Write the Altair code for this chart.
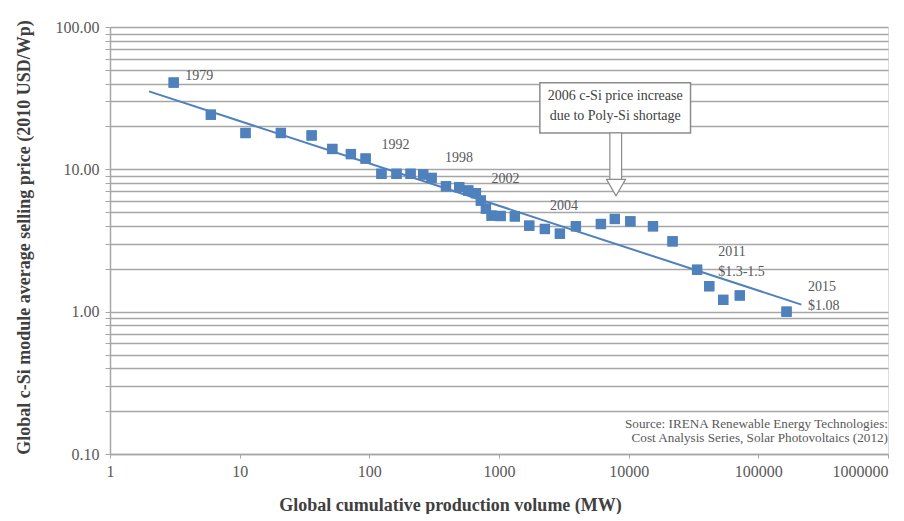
import altair as alt
import pandas as pd

# ---- data ----
volume_mw = [3.1, 6.0, 11.1, 20.8, 35.9, 51.8, 72.1, 93.6, 124, 162, 208, 260, 302,
             390, 493, 579, 664, 725, 793, 877, 1029, 1326, 1710, 2260, 2950, 3920,
             6110, 7830, 10300, 15400, 21800, 33700, 41800, 53600, 72000, 165000]
price_usd = [40.7, 24.2, 18.0, 18.0, 17.3, 13.9, 12.8, 11.9, 9.3, 9.3, 9.3, 9.2, 8.7,
             7.6, 7.5, 7.1, 6.8, 6.03, 5.3, 4.73, 4.7, 4.67, 4.02, 3.81, 3.53, 3.98,
             4.13, 4.48, 4.31, 3.98, 3.12, 1.97, 1.51, 1.21, 1.30, 1.0]

trend_x = [2.0, 215000]
trend_y = [35.3, 1.12]

label_text = ["1979", "1992", "1998", "2002", "2004", "2011", "$1.3-1.5", "2015", "$1.08"]
label_x = [3.8, 124, 383, 877, 2470, 49000, 49000, 242000, 242000]
label_y = [45.5, 14.9, 12.0, 8.56, 5.5, 2.61, 1.89, 1.49, 1.10]

box_lines = ["2006 c-Si price increase", "due to Poly-Si shortage"]
box_text_x = [7870, 7870]
box_text_y = [32.6, 23.8]
box_x = [2066]; box_x2 = [30000]; box_y = [40.5]; box_y2 = [18.0]
shaft_x = [7160]; shaft_x2 = [8820]; shaft_y = [18.0]; shaft_y2 = [8.0]
head_x = [7990]; head_y = [7.44]

source_lines = ["Source: IRENA Renewable Energy Technologies:",
                "Cost Analysis Series, Solar Photovoltaics (2012)"]
source_x = [1000000, 1000000]
source_y = [0.163, 0.130]

x_ticks = [1, 10, 100, 1000, 10000, 100000, 1000000]
y_ticks = [m * 10.0 ** e for e in (-1, 0, 1) for m in range(1, 10)] + [100.0]

FONT = "Liberation Serif"
GRID = "#a6a6a6"
TXT = "#595959"
BLUE = "#4f81bd"

xscale = alt.Scale(type="log", domain=[1, 1000000], nice=False)
yscale = alt.Scale(type="log", domain=[0.1, 100], nice=False)

xaxis = alt.Axis(values=x_ticks, grid=False, title="Global cumulative production volume (MW)",
                 labelExpr="format(datum.value, 'd')",
                 labelAlign={"expr": "datum.value >= 1000000 ? 'right' : 'center'"},
                 labelFont=FONT, labelFontSize=16, labelColor=TXT, labelPadding=5,
                 tickSize=4, tickColor=GRID, domainColor=GRID, domainWidth=1.5,
                 titleFont=FONT, titleFontSize=18, titleFontWeight="bold", titleColor="#404040",
                 titleX=340, titleAlign="center", titleY=51, titleBaseline="middle")
yaxis = alt.Axis(values=y_ticks, grid=True, gridColor=GRID, gridWidth=1.6,
                 title="Global c-Si module average selling price (2010 USD/Wp)",
                 labelExpr="abs(log(datum.value)/log(10) - round(log(datum.value)/log(10))) < 1e-6 ? format(datum.value, '.2f') : ''",
                 labelFont=FONT, labelFontSize=16, labelColor=TXT, labelPadding=6,
                 tickSize=5, tickColor=GRID, domainColor=GRID, domainWidth=1.5,
                 titleFont=FONT, titleFontSize=18, titleFontWeight="bold", titleColor="#404040",
                 titleX=-86, titleY=210, titleAngle=270, titleAlign="center", titleBaseline="middle")

pts = pd.DataFrame({"x": volume_mw, "y": price_usd})
trend = pd.DataFrame({"x": trend_x, "y": trend_y})
labels = pd.DataFrame({"x": label_x, "y": label_y, "t": label_text})
boxtxt = pd.DataFrame({"x": box_text_x, "y": box_text_y, "t": box_lines})
box = pd.DataFrame({"x": box_x, "x2": box_x2, "y": box_y, "y2": box_y2})
shaft = pd.DataFrame({"x": shaft_x, "x2": shaft_x2, "y": shaft_y, "y2": shaft_y2})
head = pd.DataFrame({"x": head_x, "y": head_y})
src = pd.DataFrame({"x": source_x, "y": source_y, "t": source_lines})

base_points = alt.Chart(pts).mark_square(size=105, color=BLUE, opacity=1).encode(
    x=alt.X("x:Q", scale=xscale, axis=xaxis),
    y=alt.Y("y:Q", scale=yscale, axis=yaxis),
)

line = alt.Chart(trend).mark_line(color=BLUE, strokeWidth=2).encode(
    x=alt.X("x:Q", scale=xscale), y=alt.Y("y:Q", scale=yscale))

lab = alt.Chart(labels).mark_text(font=FONT, fontSize=14, color=TXT, align="left", baseline="middle").encode(
    x=alt.X("x:Q", scale=xscale), y=alt.Y("y:Q", scale=yscale), text="t:N")

boxm = alt.Chart(box).mark_rect(fill="white", stroke="#8c8c8c", strokeWidth=1.5).encode(
    x=alt.X("x:Q", scale=xscale), x2="x2:Q", y=alt.Y("y:Q", scale=yscale), y2="y2:Q")

boxt = alt.Chart(boxtxt).mark_text(font=FONT, fontSize=14, color="#404040", align="center", baseline="middle").encode(
    x=alt.X("x:Q", scale=xscale), y=alt.Y("y:Q", scale=yscale), text="t:N")

shaftm = alt.Chart(shaft).mark_rect(fill="white", stroke="#8c8c8c", strokeWidth=1.2).encode(
    x=alt.X("x:Q", scale=xscale), x2="x2:Q", y=alt.Y("y:Q", scale=yscale), y2="y2:Q")

headm = alt.Chart(head).mark_point(shape="triangle-down", size=361, filled=True, fill="white",
                                   stroke="#8c8c8c", strokeWidth=1.2, opacity=1).encode(
    x=alt.X("x:Q", scale=xscale), y=alt.Y("y:Q", scale=yscale))

srcm = alt.Chart(src).mark_text(font=FONT, fontSize=13.2, color=TXT, align="right", baseline="middle").encode(
    x=alt.X("x:Q", scale=xscale), y=alt.Y("y:Q", scale=yscale), text="t:N")

chart = alt.layer(base_points, line, base_points, lab, boxm, boxt, shaftm, headm, srcm).properties(
    width=778, height=427,
    autosize=alt.AutoSizeParams(type="none"),
    padding={"left": 102, "top": 19, "right": 8, "bottom": 60},
).configure_view(stroke=None).configure_axis(labelFont=FONT, titleFont=FONT).configure(background="white")

chart.save("out.html", embed_options={"renderer": "svg", "actions": False})
